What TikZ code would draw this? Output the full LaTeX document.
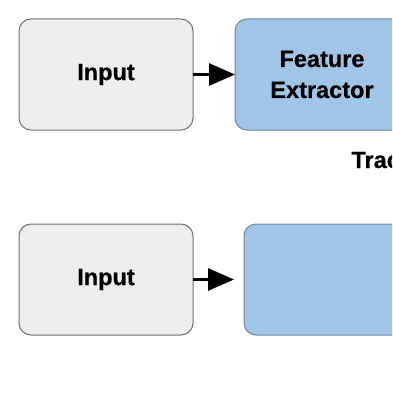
\documentclass[tikz,border=0pt]{standalone}
\usepackage{fontspec}
\setmainfont{Liberation Sans}[BoldFeatures={FakeBold=0.6}]
\usetikzlibrary{positioning, arrows.meta}
\definecolor{boxGray}{RGB}{238, 238, 238}
\definecolor{edgeGray}{RGB}{112, 112, 112}
\definecolor{featBlue}{RGB}{160, 197, 230}
\definecolor{edgeBlue}{RGB}{108, 136, 164}

\begin{document}
\begin{tikzpicture}[
        x=1pt, y=-1pt,
        inNode/.style={fill=boxGray, draw=edgeGray, line width=1pt, rounded corners=12pt, font=\bfseries\fontsize{23.5}{31}\selectfont, minimum width=174pt, minimum height=111pt, inner sep=0pt, outer sep=0pt},
        featNode/.style={fill=featBlue, draw=edgeBlue, line width=1pt, rounded corners=12pt, font=\bfseries\fontsize{23.5}{31}\selectfont, align=center, minimum width=174pt, minimum height=111pt, inner sep=0pt, outer sep=0pt},
        flowArrow/.style={line width=3pt, black, -{Triangle[length=26pt, width=22pt]}}
    ]
        \path[use as bounding box, clip] (0,0) rectangle (392,393);

        % upper row
        \node[inNode] (in1) at (106,74.5) {Input};
        \node[featNode, right=42pt of in1] (feat1) {Feature\\Extractor};
        \draw[flowArrow] (in1.east) -- (feat1.west);
        \node[anchor=base west, font=\bfseries\fontsize{23.5}{31}\selectfont] (trk) at (348,168) {Trac};

        % lower row
        \node[inNode, below=94pt of in1] (in2) {Input};
        \node[featNode, right=51pt of in2] (feat2) {};
        \draw[flowArrow, shorten >=10pt] (in2.east) -- (feat2.west);
    \end{tikzpicture}
\end{document}
